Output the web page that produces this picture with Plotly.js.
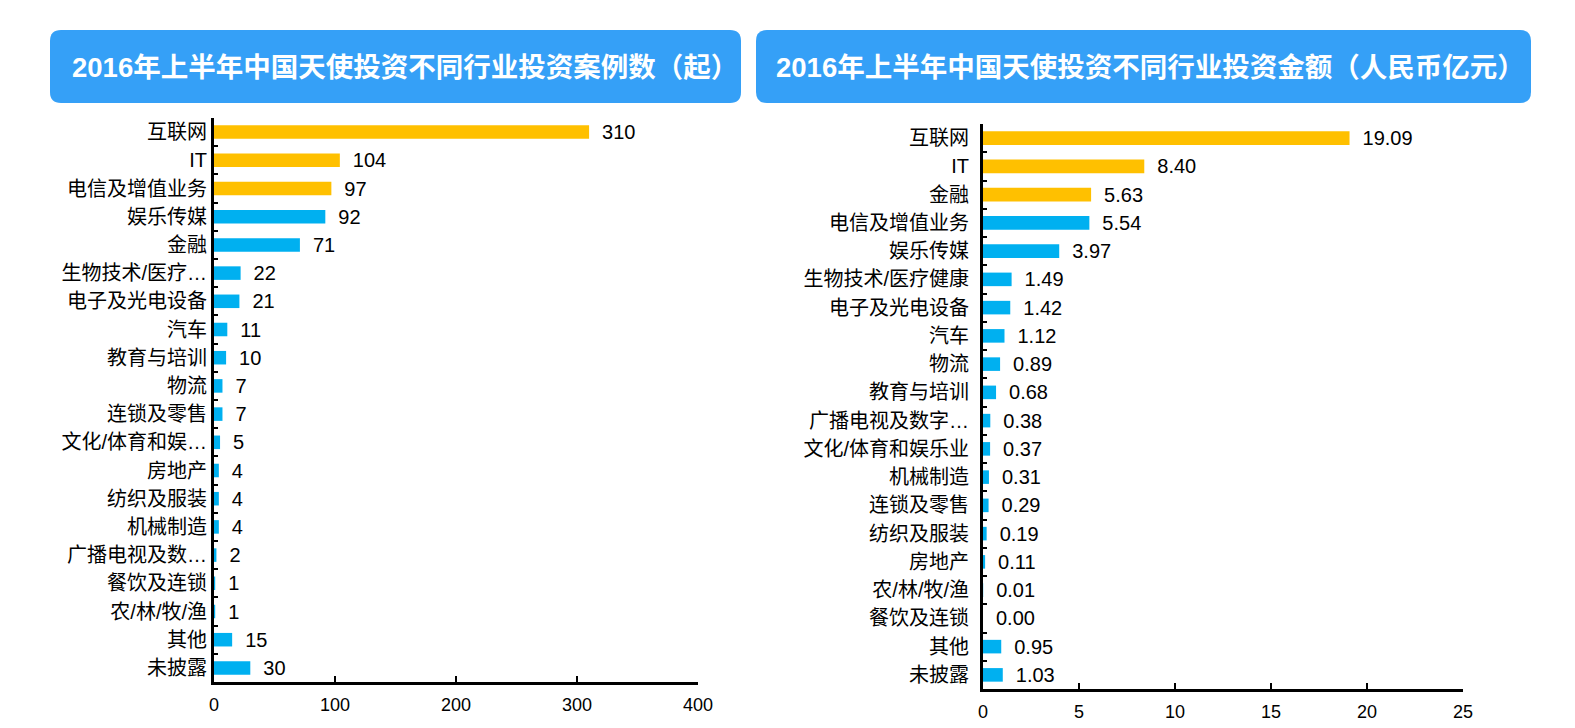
<!DOCTYPE html>
<html>
<head>
<meta charset="utf-8">
<script src="https://cdn.plot.ly/plotly-3.0.1.min.js"></script>
<style>
html,body{margin:0;padding:0;background:#fff;overflow:hidden;width:1575px;height:728px;}
#chart{width:1575px;height:728px;}
</style>
</head>
<body>
<div id="chart"></div>
<script>
// ---- Data ----
const leftTitle = '2016年上半年中国天使投资不同行业投资案例数（起）';
const leftCategories = ['互联网','IT','电信及增值业务','娱乐传媒','金融','生物技术/医疗…','电子及光电设备','汽车','教育与培训','物流','连锁及零售','文化/体育和娱…','房地产','纺织及服装','机械制造','广播电视及数…','餐饮及连锁','农/林/牧/渔','其他','未披露'];
const leftValues = [310,104,97,92,71,22,21,11,10,7,7,5,4,4,4,2,1,1,15,30];
const leftLabels = ['310','104','97','92','71','22','21','11','10','7','7','5','4','4','4','2','1','1','15','30'];
const leftHighlightCount = 3;

const rightTitle = '2016年上半年中国天使投资不同行业投资金额（人民币亿元）';
const rightCategories = ['互联网','IT','金融','电信及增值业务','娱乐传媒','生物技术/医疗健康','电子及光电设备','汽车','物流','教育与培训','广播电视及数字…','文化/体育和娱乐业','机械制造','连锁及零售','纺织及服装','房地产','农/林/牧/渔','餐饮及连锁','其他','未披露'];
const rightValues = [19.09,8.40,5.63,5.54,3.97,1.49,1.42,1.12,0.89,0.68,0.38,0.37,0.31,0.29,0.19,0.11,0.01,0.00,0.95,1.03];
const rightLabels = ['19.09','8.40','5.63','5.54','3.97','1.49','1.42','1.12','0.89','0.68','0.38','0.37','0.31','0.29','0.19','0.11','0.01','0.00','0.95','1.03'];
const rightHighlightCount = 3;

const leftTicks = [0,100,200,300,400];
const rightTicks = [0,5,10,15,20,25];

// ---- Styling ----
const W = 1575, H = 728;
const YELLOW = '#FFC000', BLUE = '#00B0F0', BOX = '#35A0F7';
const FONT = 'Liberation Sans, Arial, Noto Sans CJK SC, sans-serif';
const px = x => x / W;
const py = y => 1 - y / H;

function colors(n, k){ return Array.from({length:n}, (_,i)=> i < k ? YELLOW : BLUE); }

function roundedRect(x0,y0,x1,y1,r){
  const X = v => px(v).toFixed(5), Y = v => py(v).toFixed(5);
  return `M${X(x0+r)},${Y(y0)} L${X(x1-r)},${Y(y0)} Q${X(x1)},${Y(y0)} ${X(x1)},${Y(y0+r)} ` +
         `L${X(x1)},${Y(y1-r)} Q${X(x1)},${Y(y1)} ${X(x1-r)},${Y(y1)} ` +
         `L${X(x0+r)},${Y(y1)} Q${X(x0)},${Y(y1)} ${X(x0)},${Y(y1-r)} ` +
         `L${X(x0)},${Y(y0+r)} Q${X(x0)},${Y(y0)} ${X(x0+r)},${Y(y0)} Z`;
}

const barCommon = {
  type:'bar', orientation:'h', textposition:'outside', cliponaxis:false, constraintext:'none',
  textfont:{family:FONT, size:20, color:'#000'},
  hoverinfo:'skip', showlegend:false
};

const traces = [
  Object.assign({}, barCommon, {
    y: leftCategories, x: leftValues, text: leftLabels,
    texttemplate:'\u2002%{text}',
    marker:{color: colors(leftValues.length, leftHighlightCount)},
    xaxis:'x', yaxis:'y'
  }),
  Object.assign({}, barCommon, {
    y: rightCategories, x: rightValues, text: rightLabels,
    texttemplate:'\u2002%{text}',
    marker:{color: colors(rightValues.length, rightHighlightCount)},
    xaxis:'x2', yaxis:'y2'
  })
];

const xCommon = {
  showline:true, linecolor:'#000', linewidth:3, ticks:'inside', ticklen:6, tickwidth:2, tickcolor:'#000',
  showgrid:false, zeroline:false, fixedrange:true,
  tickfont:{family:FONT, size:18, color:'#000'}, ticklabelstandoff:4
};
const yCommon = {
  type:'category', autorange:'reversed', showline:true, linecolor:'#000', linewidth:3,
  ticks:'inside', tickson:'boundaries', ticklen:4, tickwidth:2, tickcolor:'#000',
  showgrid:false, zeroline:false, fixedrange:true,
  tickfont:{family:FONT, size:20, color:'#000'}
};

const layout = {
  width:W, height:H, margin:{l:0,r:0,t:0,b:0},
  paper_bgcolor:'#fff', plot_bgcolor:'#fff',
  bargap:0.52,
  xaxis: Object.assign({}, xCommon, {domain:[px(214), px(698)], range:[0,400], tickvals:leftTicks, anchor:'y'}),
  yaxis: Object.assign({}, yCommon, {domain:[py(682), py(118)], anchor:'x', ticklabelstandoff:0}),
  xaxis2: Object.assign({}, xCommon, {domain:[px(983), px(1463)], range:[0,25], tickvals:rightTicks, anchor:'y2'}),
  yaxis2: Object.assign({}, yCommon, {domain:[py(689), py(124)], anchor:'x2', ticklabelstandoff:7}),
  shapes:[
    {type:'path', xref:'paper', yref:'paper', path: roundedRect(50,30,741,103,11), fillcolor:BOX, line:{width:0}, layer:'below'},
    {type:'path', xref:'paper', yref:'paper', path: roundedRect(756,30,1531,103,11), fillcolor:BOX, line:{width:0}, layer:'below'}
  ],
  annotations:[
    {xref:'paper', yref:'paper', x:px(405), y:py(67), text:'<b>'+leftTitle+'</b>', showarrow:false,
     font:{family:FONT, size:27.5, color:'#fff'}, xanchor:'center', yanchor:'middle'},
    {xref:'paper', yref:'paper', x:px(1150), y:py(67), text:'<b>'+rightTitle+'</b>', showarrow:false,
     font:{family:FONT, size:27.5, color:'#fff'}, xanchor:'center', yanchor:'middle'}
  ]
};

Plotly.newPlot('chart', traces, layout, {displayModeBar:false, staticPlot:true});
</script>
</body>
</html>
